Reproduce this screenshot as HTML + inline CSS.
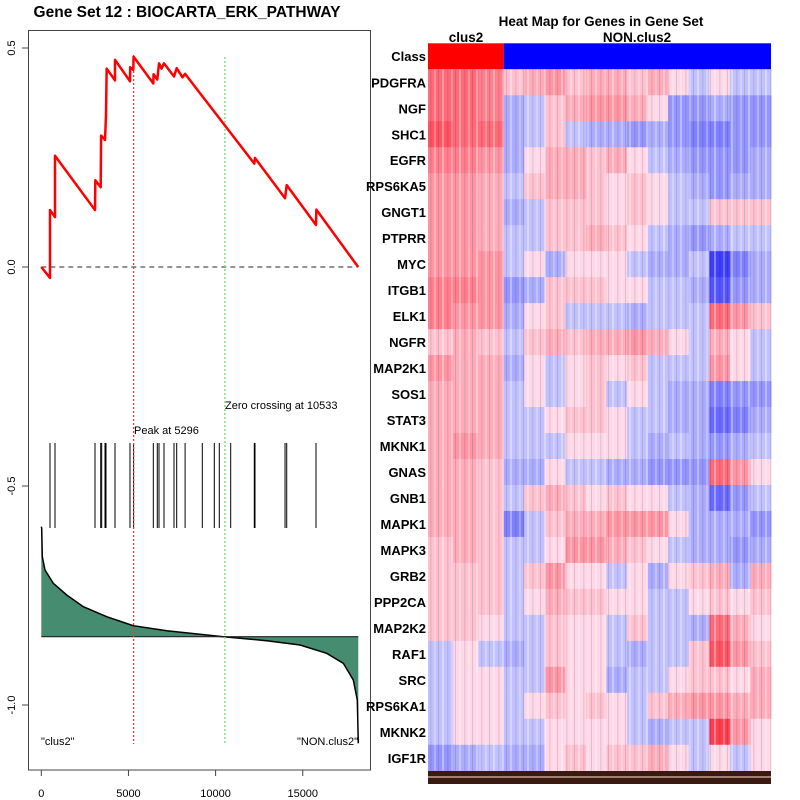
<!DOCTYPE html>
<html><head><meta charset="utf-8"><style>
body{margin:0;background:#fff;width:800px;height:800px;overflow:hidden}
svg{display:block;font-family:"Liberation Sans",sans-serif}
</style></head><body>
<svg id="chart" width="800" height="800" viewBox="0 0 800 800">
<defs>
<pattern id="stripes" patternUnits="userSpaceOnUse" width="17" height="10">
<rect x="0" y="0" width="2" height="10" fill="#fff" opacity="0.35"/>
<rect x="5" y="0" width="1.5" height="10" fill="#000" opacity="0.08"/>
<rect x="9" y="0" width="2" height="10" fill="#fff" opacity="0.25"/>
<rect x="13" y="0" width="1" height="10" fill="#000" opacity="0.12"/>
</pattern>
</defs>
<rect width="800" height="800" fill="#fff"/>
<text x="187" y="17" text-anchor="middle" font-size="15.5" font-weight="bold">Gene Set  12 : BIOCARTA_ERK_PATHWAY</text>
<rect x="28.5" y="30.5" width="342" height="739.5" fill="none" stroke="#444"/>
<g id="left"></g>
<text x="601" y="26" text-anchor="middle" font-size="13.5" font-weight="bold">Heat Map for Genes in Gene Set</text>
<g id="heat"></g>
</svg>
<script>
const NS='http://www.w3.org/2000/svg';
// ---- running enrichment score data ----
const esRanks=[0,499,499,786,786,3081,3100,3408,3430,3655,3712,3750,4228,4228,5089,5100,5278,5296,6426,6440,6655,6753,6900,7040,7613,7768,8100,8250,12220,12260,13983,14080,15760,15780,18180];
const esValues=[0,-0.025,0.13,0.114,0.254,0.13,0.198,0.182,0.30,0.29,0.346,0.453,0.426,0.473,0.424,0.456,0.45,0.48,0.419,0.44,0.428,0.465,0.453,0.465,0.435,0.454,0.433,0.441,0.236,0.249,0.157,0.187,0.096,0.131,0];
const hitRanks=[499,786,3081,3408,3465,3655,3712,4228,5089,5296,6426,6655,6753,7040,7613,7768,8250,9237,9925,10212,10866,12220,12260,13983,14080,15760];
const metricRanks=[0,23,57,212,688,1457,2410,3752,5278,7195,10442,12932,14843,16374,17327,17900,18130,18187];
const metricValues=[1.1,1.084,0.80,0.667,0.534,0.417,0.30,0.20,0.11,0.06,0,-0.04,-0.083,-0.166,-0.266,-0.433,-0.633,-1.066];
const xTicks=[0,5000,10000,15000];
const yTicks=[0.5,0.0,-0.5,-1.0];
const peakRank=5296, zeroRank=10533;
const xS=r=>41.3+r*0.01743;
const yS=v=>267-v*438;
const mS=v=>636.7-v*100;
function mk(tag,attrs,parent,text){const e=document.createElementNS(NS,tag);for(const k in attrs)e.setAttribute(k,attrs[k]);if(text!==undefined)e.textContent=text;parent.appendChild(e);return e;}
const L=document.getElementById('left');
xTicks.forEach(t=>{
 const l=mk('line',{x1:xS(t),x2:xS(t),y1:770,y2:776,stroke:'#444'},L);
 
 
 const tx=mk('text',{x:xS(t),y:797,'text-anchor':'middle','font-size':11},L,String(t));
 
 
});
yTicks.forEach(t=>{
 const l=mk('line',{x1:22,x2:28.5,y1:yS(t),y2:yS(t),stroke:'#444'},L);
 
 
 const tx=mk('text',{x:0,y:0,'text-anchor':'middle','font-size':11,transform:`translate(15,${yS(t)}) rotate(-90)`},L,t.toFixed(1));
 
 
});
let d=`M${xS(metricRanks[0])},${mS(0)}`;
metricRanks.forEach((r,i)=>{d+=` L${xS(r)},${mS(metricValues[i])}`});
d+=` L${xS(metricRanks[metricRanks.length-1])},${mS(0)} Z`;
const area=mk('path',{d:d,fill:'#468c70',stroke:'none'},L);


let d2='';metricRanks.forEach((r,i)=>{d2+=(i?' L':'M')+xS(r)+','+mS(metricValues[i])});
const ml=mk('path',{d:d2,fill:'none',stroke:'#000','stroke-width':1.5},L);


const bl=mk('line',{x1:xS(0),x2:xS(metricRanks[metricRanks.length-1]),y1:mS(0),y2:mS(0),stroke:'#222','stroke-width':1.2},L);


hitRanks.forEach(r=>{
 const h=mk('line',{x1:xS(r),x2:xS(r),y1:443,y2:528,stroke:'#000','stroke-width':1},L);
 
 
});
const z=mk('line',{x1:xS(0),x2:xS(18180),y1:yS(0),y2:yS(0),stroke:'#555','stroke-dasharray':'5,4','stroke-width':1.2},L);


const pk=mk('line',{x1:xS(peakRank),x2:xS(peakRank),y1:55,y2:744,stroke:'#e04040','stroke-dasharray':'2,2','stroke-width':1.3},L);


const zc=mk('line',{x1:xS(zeroRank),x2:xS(zeroRank),y1:57,y2:744,stroke:'#80e080','stroke-dasharray':'2,2','stroke-width':1.5},L);


let d3='';esRanks.forEach((r,i)=>{d3+=(i?' L':'M')+xS(r)+','+yS(esValues[i])});
const es=mk('path',{d:d3,fill:'none',stroke:'#f00','stroke-width':2.5,'stroke-linejoin':'round'},L);


const t1=mk('text',{x:134,y:434,'font-size':11},L,'Peak at '+peakRank);


const t2=mk('text',{x:225,y:409,'font-size':11},L,'Zero crossing at '+zeroRank);


const t3=mk('text',{x:41,y:745,'font-size':11},L,'"clus2"');


const t4=mk('text',{x:358,y:745,'font-size':11,'text-anchor':'end'},L,'"NON.clus2"');



// ---- heatmap data ----
const genes=['PDGFRA','NGF','SHC1','EGFR','RPS6KA5','GNGT1','PTPRR','MYC','ITGB1','ELK1','NGFR','MAP2K1','SOS1','STAT3','MKNK1','GNAS','GNB1','MAPK1','MAPK3','GRB2','PPP2CA','MAP2K2','RAF1','SRC','RPS6KA1','MKNK2','IGF1R'];
const heatValues=[
[.5,.5,.4,.1,.2,.3,.1,.2,.2,.1,.2,0,-.1,0,-.1,-.1],
[.5,.5,.4,-.2,-.1,.1,.2,.3,.3,.2,0,-.3,-.3,-.2,-.3,-.3],
[.6,.5,.5,-.2,-.1,.1,-.1,-.2,-.2,-.3,-.2,-.3,-.4,-.4,-.3,-.3],
[.4,.4,.3,-.2,0,.2,.2,.1,.2,0,-.1,-.2,-.3,-.3,-.3,-.2],
[.3,.3,.2,-.1,.1,.2,.2,.1,0,.1,0,-.1,-.2,-.3,-.2,-.2],
[.3,.3,.2,-.2,-.1,.1,.1,.1,0,.1,0,-.1,-.1,.1,.1,.1],
[.3,.3,.2,-.1,-.1,.1,.1,.2,.1,0,-.1,-.2,-.3,-.2,-.1,-.1],
[.3,.3,.3,-.1,0,-.2,0,0,0,-.1,-.2,-.2,-.1,-.7,-.4,-.2],
[.4,.4,.3,-.3,-.2,.1,.1,.1,0,0,-.1,-.1,-.2,-.6,-.3,-.2],
[.4,.3,.3,-.2,0,.1,-.1,-.1,-.1,-.2,-.1,-.1,-.1,.5,.3,.1],
[.1,.2,.1,-.1,.1,.2,.1,.2,.2,.3,.2,0,-.1,.2,0,-.1],
[.3,.2,.2,-.2,0,-.1,0,.1,0,.1,-.1,-.1,-.1,.3,0,-.1],
[.2,.2,.2,-.1,0,-.1,0,.1,-.1,0,-.1,-.2,-.2,-.4,-.3,-.3],
[.2,.2,.2,-.1,-.1,0,.1,.1,0,-.1,-.1,-.2,-.2,-.5,-.4,-.2],
[.2,.3,.2,-.1,-.1,-.1,0,0,0,-.1,-.2,-.1,-.2,-.3,-.2,-.1],
[.2,.2,.1,-.2,-.2,0,-.1,-.1,-.2,-.2,-.3,-.3,-.3,.5,.3,0],
[.2,.2,.1,-.1,.1,.2,.1,0,.1,0,0,-.1,-.2,-.5,-.3,-.1],
[.2,.2,.1,-.4,-.1,.1,.2,.2,.3,.3,.3,0,-.2,-.2,-.2,-.3],
[.1,.2,.1,-.1,-.1,0,.3,.3,.2,.1,0,-.1,-.2,-.2,-.3,-.2],
[.1,.1,.1,-.1,.1,.3,0,0,-.1,0,-.2,0,.1,.2,-.2,.2],
[.1,.1,.1,-.1,0,.2,.1,.1,0,0,-.1,-.1,0,.1,0,.1],
[.1,.1,0,-.1,-.1,.1,0,0,-.1,.1,-.1,-.1,-.2,.5,.2,0],
[-.1,0,-.1,-.2,-.1,.1,0,0,-.1,-.2,-.1,-.1,.1,.6,.3,.1],
[-.1,0,0,-.1,-.1,.3,0,0,-.2,-.1,-.1,0,.1,.1,0,.2],
[-.1,0,0,-.1,0,.1,0,.1,0,-.1,.1,.2,.3,.3,.2,.2],
[-.1,0,0,-.1,-.1,0,0,0,0,-.1,-.2,-.1,-.1,.7,.3,0],
[-.3,-.2,-.1,-.2,-.2,0,.1,0,.1,.1,.2,0,-.1,0,-.1,0]];
const classes=['clus2','NON.clus2'];
const classBins=[3,13];
const H=document.getElementById('heat');
const hx0=428,hx1=771,hyTop=69.3,rowH=25.98,clusW=75.7;
function binX(j){return j<classBins[0]?hx0+j*clusW/classBins[0]:hx0+clusW+(j-classBins[0])*(hx1-hx0-clusW)/classBins[1];}
function col(v){const c=Math.max(0,Math.round(215-220*Math.min(1,Math.abs(v))));return v>=0?`rgb(255,${c},${Math.min(255,c+15)})`:`rgb(${c},${c},255)`;}
const cr=mk('rect',{x:hx0,y:43.3,width:clusW,height:26,fill:'#f00'},H);


const cb=mk('rect',{x:hx0+clusW,y:43.3,width:hx1-hx0-clusW,height:26,fill:'#00f'},H);


const c1=mk('text',{x:466,y:42,'text-anchor':'middle','font-size':13.5,'font-weight':'bold'},H,classes[0]);


const c2=mk('text',{x:637,y:42,'text-anchor':'middle','font-size':13.5,'font-weight':'bold'},H,classes[1]);


const cl=mk('text',{x:426,y:61,'text-anchor':'end','font-size':13,'font-weight':'bold'},H,'Class');


genes.forEach((g,i)=>{
 const y=hyTop+i*rowH;
 heatValues[i].forEach((v,j)=>{
  const r=mk('rect',{x:binX(j),y:y,width:binX(j+1)-binX(j)+0.5,height:rowH+0.5,fill:col(v)},H);
  
  
 });
 const t=mk('text',{x:426,y:y+rowH/2+5,'text-anchor':'end','font-size':13,'font-weight':'bold'},H,g);
 
 
});
const ov=mk('rect',{x:hx0,y:hyTop,width:hx1-hx0,height:rowH*genes.length,fill:'url(#stripes)'},H);


const bs=mk('rect',{x:hx0,y:771,width:hx1-hx0,height:13,fill:'#3a1a10'},H);


const bs2=mk('rect',{x:hx0,y:776,width:hx1-hx0,height:2,fill:'#a08070'},H);


</script>
</body></html>
